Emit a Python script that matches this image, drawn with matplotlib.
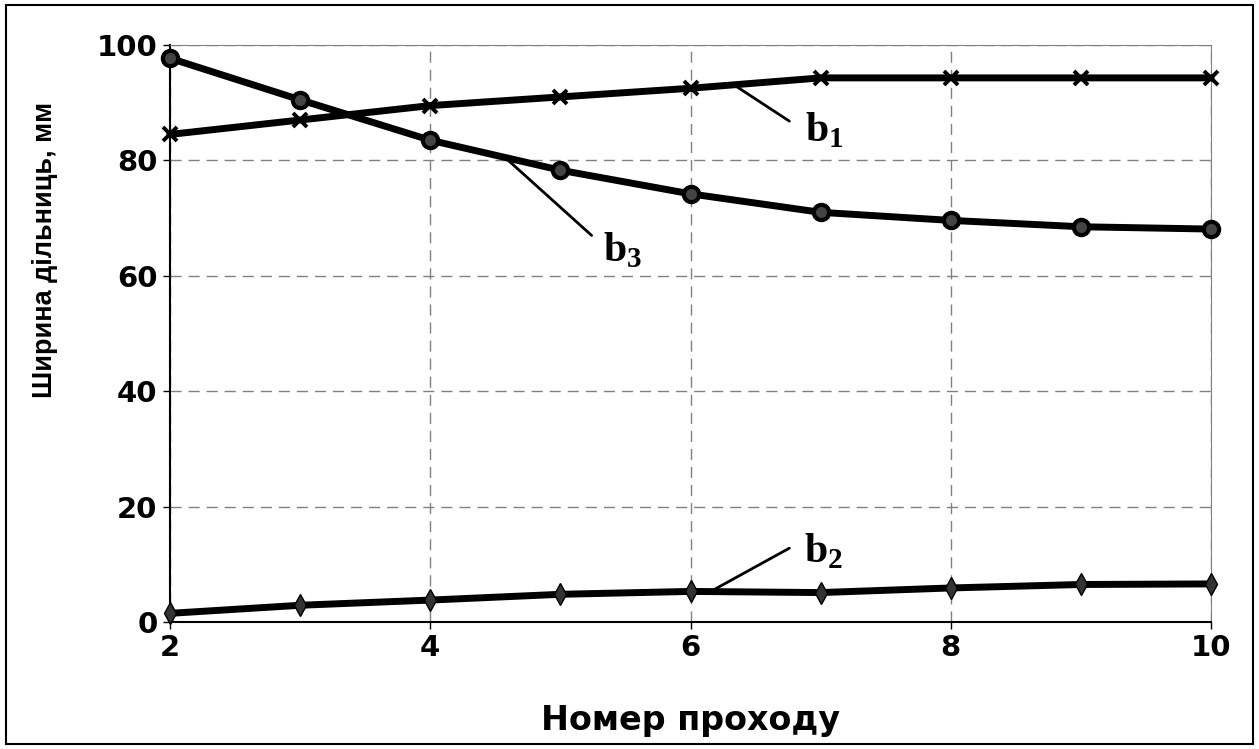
import matplotlib
matplotlib.use("Agg")
import matplotlib.pyplot as plt
from matplotlib.patches import Rectangle

passes = [2, 3, 4, 5, 6, 7, 8, 9, 10]
b1 = [84.5, 87.0, 89.5, 91.0, 92.5, 94.3, 94.3, 94.3, 94.3]
b2 = [1.5, 2.9, 3.8, 4.8, 5.3, 5.1, 5.9, 6.5, 6.6]
b3 = [97.7, 90.5, 83.5, 78.3, 74.2, 71.0, 69.6, 68.5, 68.1]
xticks = [2, 4, 6, 8, 10]
yticks = [0, 20, 40, 60, 80, 100]
xlabel = "Номер проходу"
ylabel = "Ширина дільниць, мм"

plt.rcParams['font.family'] = ['DejaVu Sans']
plt.rcParams['mathtext.fontset'] = 'custom'
plt.rcParams['mathtext.bf'] = 'Liberation Serif:bold'
plt.rcParams['mathtext.rm'] = 'Liberation Serif'

fig = plt.figure(figsize=(12.59, 7.49), dpi=100)
ax = fig.add_axes([170/1259, 1-622/749, (1211-170)/1259, (622-45)/749])

lw = 5
ax.plot(passes, b1, color='black', lw=lw, marker='x', ms=10, mew=2.8, zorder=3, clip_on=False)
ax.plot(passes, b3, color='black', lw=lw, marker='o', ms=11, mfc='#444444', mec='black', mew=3, zorder=3, clip_on=False)
ax.plot(passes, b2, color='black', lw=lw, marker='d', ms=11, mfc='#333333', mec='black', mew=1, zorder=3, clip_on=False)

ax.set_xlim(2, 10)
ax.set_ylim(0, 100)
ax.set_xticks(xticks)
ax.set_yticks(yticks)
ax.tick_params(labelsize=21, width=1, length=5, direction='out', pad=4)
for lab in ax.get_xticklabels() + ax.get_yticklabels():
    lab.set_fontweight('bold')
ax.grid(True, color='#808080', linestyle=(0, (8, 5)), linewidth=1)
ax.set_axisbelow(True)
for s in ['top', 'right']:
    ax.spines[s].set_color('#808080')
for s in ['left', 'bottom']:
    ax.spines[s].set_color('black')
    ax.spines[s].set_linewidth(1.5)

ax.set_xlabel(xlabel, fontsize=24, fontweight='bold', labelpad=30)
ax.set_ylabel(ylabel, fontsize=19.5, fontweight='bold', family=['Liberation Sans', 'DejaVu Sans'])
ax.yaxis.set_label_coords(-0.1076, 0.645)

# annotation leader lines and labels
lk = dict(arrowstyle='-', color='black', lw=2, shrinkA=0, shrinkB=0)
ax.annotate('', xy=(6.34, 93.0), xytext=(6.76, 86.8), arrowprops=lk)
ax.annotate('', xy=(4.59, 80.2), xytext=(5.24, 67.0), arrowprops=lk)
ax.annotate('', xy=(6.18, 5.6), xytext=(6.76, 12.8), arrowprops=lk)
ax.text(6.88, 85.4, r'$\mathbf{b}_\mathbf{1}$', fontsize=30, ha='left', va='center')
ax.text(5.33, 64.6, r'$\mathbf{b}_\mathbf{3}$', fontsize=30, ha='left', va='center')
ax.text(6.87, 12.5, r'$\mathbf{b}_\mathbf{2}$', fontsize=30, ha='left', va='center')

fig.patches.append(Rectangle((6/1259, 5/749), 1247/1259, 739/749, transform=fig.transFigure,
                             fill=False, edgecolor='black', lw=1.5))

fig.savefig('out.png', dpi=100)
